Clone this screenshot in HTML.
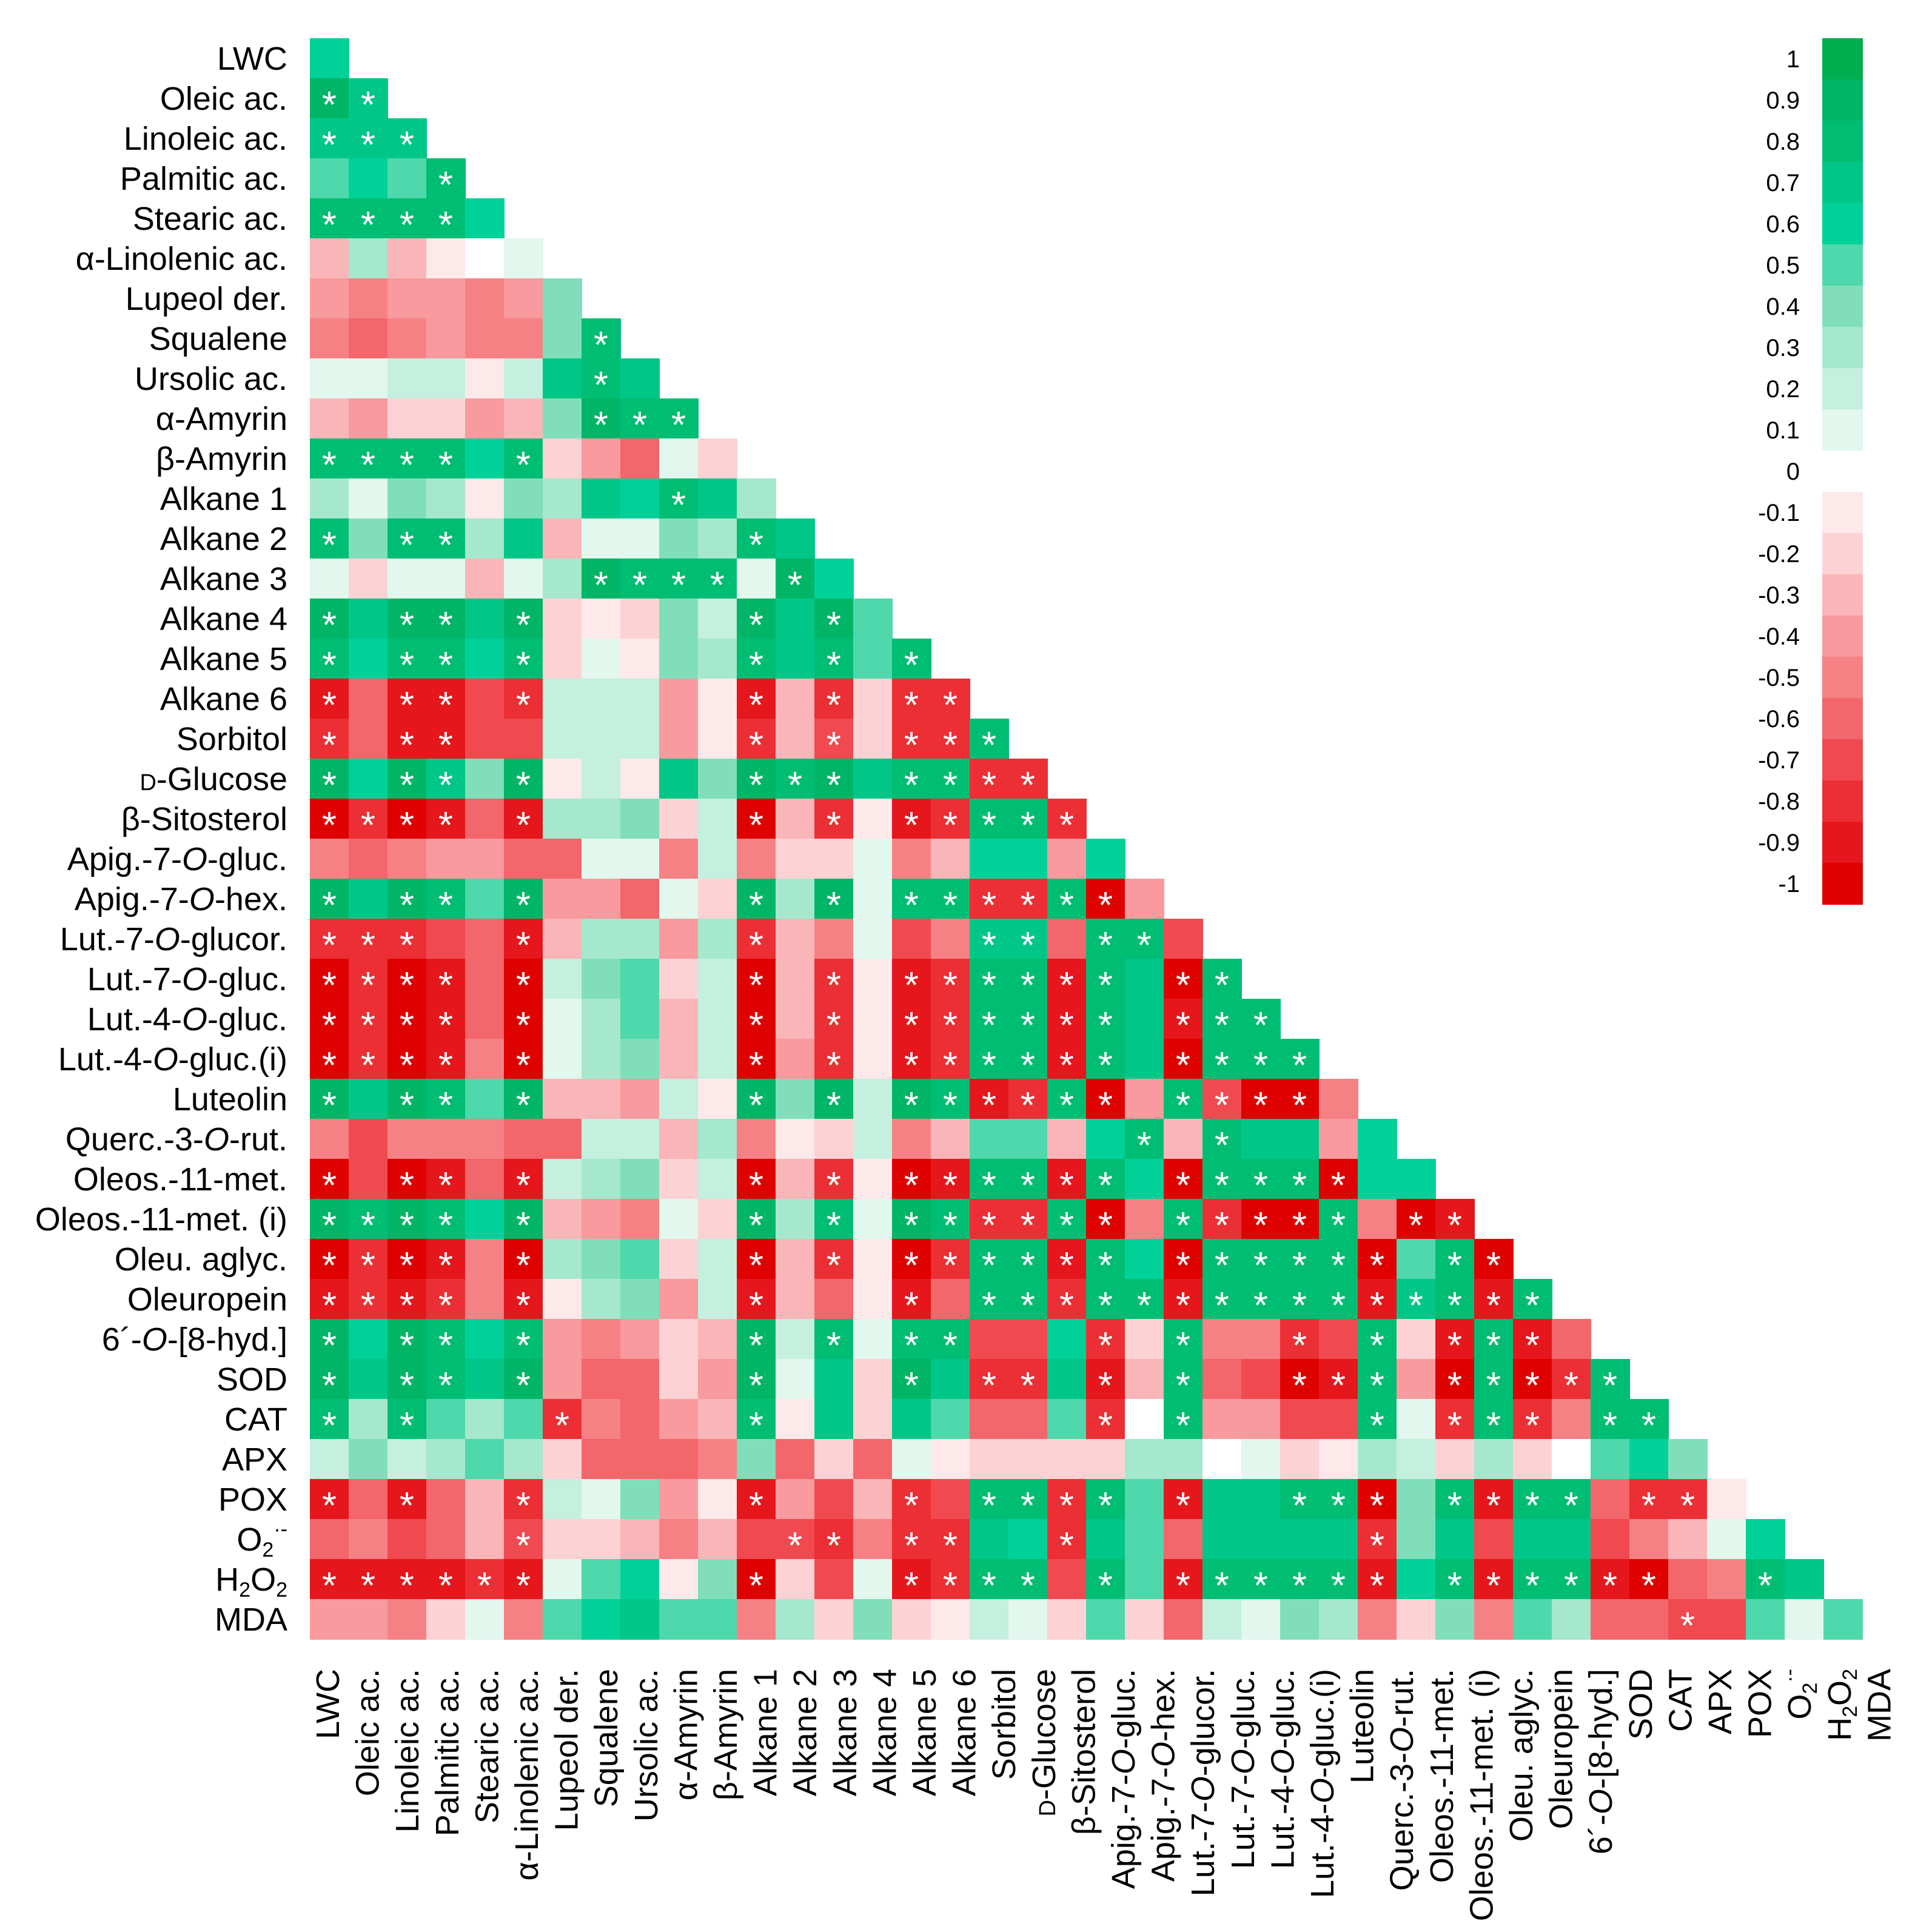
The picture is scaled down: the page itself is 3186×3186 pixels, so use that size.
<!DOCTYPE html>
<html>
<head>
<meta charset="utf-8">
<style>
  html, body { margin: 0; padding: 0; background: #ffffff; }
  svg { display: block; }
  text { font-family: "Liberation Sans", Arial, sans-serif; }
</style>
</head>
<body>
<svg id="chart" xmlns="http://www.w3.org/2000/svg" width="3186" height="3186" viewBox="0 0 3186 3186">
  <rect x="0" y="0" width="3186" height="3186" fill="#ffffff"/>
  <g id="cells"></g>
  <g id="stars"></g>
  <g id="rowLabels"></g>
  <g id="colLabels"></g>
  <g id="legend"></g>
</svg>
<script>
// ---- data ----
const labels = [
  ["LWC"],["Oleic ac."],["Linoleic ac."],["Palmitic ac."],["Stearic ac."],["α-Linolenic ac."],
  ["Lupeol der."],["Squalene"],["Ursolic ac."],["α-Amyrin"],["β-Amyrin"],
  ["Alkane 1"],["Alkane 2"],["Alkane 3"],["Alkane 4"],["Alkane 5"],["Alkane 6"],
  ["Sorbitol"],["D-Glucose"],["β-Sitosterol"],
  ["Apig.-7-","O","-gluc."],["Apig.-7-","O","-hex."],["Lut.-7-","O","-glucor."],["Lut.-7-","O","-gluc."],
  ["Lut.-4-","O","-gluc."],["Lut.-4-","O","-gluc.(i)"],["Luteolin"],["Querc.-3-","O","-rut."],
  ["Oleos.-11-met."],["Oleos.-11-met. (i)"],["Oleu. aglyc."],["Oleuropein"],
  ["6´-","O","-[8-hyd.]"],["SOD"],["CAT"],["APX"],["POX"],["O2"],["H2O2"],["MDA"]
];

const corr = [
  [0.6],
  [0.85,0.65],
  [0.7,0.7,0.7],
  [0.45,0.6,0.5,0.8],
  [0.8,0.8,0.8,0.8,0.6],
  [-0.3,0.3,-0.3,-0.1,0,0.05],
  [-0.4,-0.5,-0.35,-0.35,-0.5,-0.35,0.4],
  [-0.5,-0.55,-0.5,-0.4,-0.45,-0.45,0.4,0.8],
  [0.1,0.1,0.15,0.15,-0.05,0.2,0.65,0.8,0.65],
  [-0.25,-0.4,-0.2,-0.15,-0.35,-0.25,0.35,0.85,0.8,0.8],
  [0.8,0.75,0.8,0.8,0.6,0.8,-0.2,-0.4,-0.55,0.1,-0.2],
  [0.3,0.1,0.35,0.3,-0.1,0.35,0.25,0.65,0.6,0.8,0.7,0.3],
  [0.75,0.35,0.75,0.8,0.3,0.7,-0.3,0.05,0.02,0.4,0.25,0.8,0.7],
  [0.02,-0.15,0.1,0.1,-0.25,0.1,0.3,0.85,0.8,0.8,0.8,0.02,0.85,0.6],
  [0.85,0.65,0.85,0.85,0.62,0.85,-0.15,-0.05,-0.15,0.4,0.15,0.85,0.65,0.85,0.45],
  [0.8,0.55,0.8,0.8,0.6,0.8,-0.15,0.05,-0.03,0.4,0.25,0.8,0.65,0.8,0.5,0.8],
  [-0.85,-0.55,-0.85,-0.85,-0.65,-0.75,0.12,0.15,0.2,-0.35,-0.05,-0.85,-0.3,-0.75,-0.2,-0.8,-0.8],
  [-0.8,-0.55,-0.85,-0.9,-0.7,-0.7,0.12,0.12,0.2,-0.35,-0.05,-0.8,-0.3,-0.7,-0.2,-0.8,-0.8,0.8],
  [0.85,0.55,0.85,0.7,0.35,0.85,-0.1,0.15,-0.03,0.65,0.35,0.85,0.75,0.85,0.65,0.8,0.8,-0.8,-0.8],
  [-1,-0.75,-1,-0.85,-0.55,-0.9,0.25,0.3,0.4,-0.2,0.15,-1,-0.3,-0.8,-0.1,-0.85,-0.8,0.8,0.8,-0.8],
  [-0.45,-0.6,-0.5,-0.4,-0.35,-0.55,-0.55,0.05,0.1,-0.45,0.15,-0.5,-0.2,-0.2,0.02,-0.45,-0.3,0.6,0.6,-0.35,0.6],
  [0.85,0.65,0.85,0.75,0.45,0.85,-0.4,-0.4,-0.55,0.05,-0.2,0.85,0.3,0.85,0.05,0.8,0.8,-0.8,-0.8,0.8,-0.95,-0.35],
  [-0.8,-0.8,-0.8,-0.7,-0.55,-0.85,-0.3,0.3,0.3,-0.35,0.25,-0.8,-0.25,-0.5,0.03,-0.7,-0.5,0.65,0.65,-0.55,0.8,0.8,-0.65],
  [-1,-0.75,-1,-0.85,-0.55,-0.95,0.2,0.35,0.5,-0.2,0.2,-1,-0.3,-0.8,-0.05,-0.85,-0.8,0.8,0.8,-0.85,0.8,0.65,-0.95,0.8],
  [-0.95,-0.75,-1,-0.85,-0.55,-0.95,0.05,0.3,0.45,-0.3,0.15,-1,-0.3,-0.8,-0.05,-0.85,-0.75,0.8,0.8,-0.85,0.8,0.7,-0.9,0.8,0.8],
  [-1,-0.75,-1,-0.85,-0.5,-0.95,0.07,0.3,0.4,-0.3,0.15,-1,-0.35,-0.8,-0.08,-0.85,-0.8,0.8,0.8,-0.85,0.8,0.65,-0.95,0.8,0.8,0.8],
  [0.85,0.65,0.85,0.75,0.45,0.85,-0.3,-0.3,-0.4,0.2,-0.07,0.85,0.4,0.85,0.15,0.85,0.8,-0.85,-0.8,0.8,-0.95,-0.4,0.8,-0.7,-0.95,-0.95,-0.45],
  [-0.45,-0.7,-0.5,-0.5,-0.45,-0.6,-0.55,0.2,0.2,-0.3,0.3,-0.45,-0.1,-0.15,0.15,-0.45,-0.3,0.5,0.5,-0.3,0.6,0.8,-0.3,0.8,0.65,0.65,-0.35,0.55],
  [-1,-0.65,-1,-0.9,-0.6,-0.9,0.2,0.3,0.4,-0.2,0.15,-1,-0.3,-0.8,-0.05,-1,-0.85,0.8,0.8,-0.85,0.8,0.6,-0.95,0.8,0.8,0.8,-0.95,0.55,0.6],
  [0.9,0.75,0.9,0.8,0.55,0.9,-0.3,-0.4,-0.5,0.1,-0.2,0.9,0.3,0.8,0.05,0.85,0.75,-0.8,-0.8,0.75,-0.95,-0.45,0.8,-0.75,-0.95,-0.95,0.8,-0.45,-0.95,-0.9],
  [-1,-0.75,-1,-0.85,-0.5,-0.95,0.25,0.4,0.5,-0.2,0.15,-1,-0.3,-0.8,-0.08,-1,-0.8,0.8,0.8,-0.85,0.8,0.55,-0.95,0.8,0.8,0.8,0.8,-0.95,0.5,0.8,-0.95],
  [-0.9,-0.75,-0.9,-0.75,-0.5,-0.9,-0.07,0.25,0.35,-0.35,0.15,-0.9,-0.3,-0.6,-0.08,-0.9,-0.6,0.8,0.8,-0.8,0.8,0.75,-0.9,0.8,0.8,0.8,0.8,-0.85,0.7,0.8,-0.85,0.8],
  [0.85,0.6,0.85,0.75,0.55,0.8,-0.4,-0.5,-0.4,-0.2,-0.3,0.85,0.2,0.8,0.02,0.8,0.8,-0.65,-0.65,0.6,-0.8,-0.15,0.8,-0.5,-0.5,-0.8,-0.65,0.8,-0.2,-0.85,0.8,-0.85,-0.6],
  [0.85,0.7,0.85,0.8,0.7,0.85,-0.4,-0.55,-0.6,-0.2,-0.35,0.9,0.02,0.7,-0.2,0.85,0.7,-0.8,-0.8,0.65,-0.85,-0.3,0.8,-0.6,-0.65,-0.95,-0.85,0.8,-0.35,-0.95,0.8,-0.95,-0.75,0.8],
  [0.8,0.3,0.8,0.5,0.25,0.5,-0.75,-0.5,-0.55,-0.35,-0.3,0.8,-0.1,0.65,-0.2,0.65,0.5,-0.6,-0.55,0.5,-0.8,0,0.8,-0.35,-0.35,-0.7,-0.65,0.8,0.05,-0.75,0.8,-0.75,-0.5,0.8,0.8],
  [0.15,0.4,0.2,0.3,0.45,0.25,-0.2,-0.6,-0.55,-0.6,-0.45,0.35,-0.6,-0.2,-0.55,0.01,-0.02,-0.15,-0.15,-0.15,-0.15,0.25,0.3,0,0.02,-0.15,-0.05,0.25,0.15,-0.15,0.25,-0.15,0,0.45,0.55,0.4],
  [-0.85,-0.55,-0.9,-0.6,-0.3,-0.8,0.2,0.05,0.4,-0.35,-0.05,-0.85,-0.35,-0.7,-0.3,-0.8,-0.65,0.8,0.8,-0.8,0.8,0.45,-0.85,0.7,0.65,0.8,0.8,-0.95,0.35,0.8,-0.9,0.8,0.8,-0.6,-0.8,-0.75,-0.1],
  [-0.6,-0.5,-0.65,-0.6,-0.3,-0.7,-0.15,-0.15,-0.25,-0.5,-0.3,-0.65,-0.7,-0.8,-0.5,-0.8,-0.8,0.7,0.6,-0.75,0.65,0.45,-0.6,0.7,0.65,0.65,0.65,-0.75,0.4,0.65,-0.65,0.65,0.65,-0.7,-0.5,-0.25,0.1,0.55],
  [-0.9,-0.9,-0.9,-0.9,-0.75,-0.9,0.08,0.5,0.6,-0.02,0.35,-1,-0.15,-0.65,0.1,-0.85,-0.8,0.8,0.8,-0.65,0.8,0.5,-0.9,0.8,0.8,0.8,0.8,-0.85,0.6,0.8,-0.9,0.8,0.8,-0.85,-0.95,-0.6,-0.45,0.75,0.65],
  [-0.4,-0.4,-0.45,-0.12,0.03,-0.45,0.45,0.6,0.65,0.5,0.45,-0.5,0.3,-0.15,0.35,-0.2,-0.1,0.15,0.1,-0.2,0.45,-0.2,-0.55,0.15,0.1,0.4,0.3,-0.5,-0.15,0.35,-0.5,0.45,0.25,-0.55,-0.6,-0.7,-0.65,0.5,0.1,0.45]
];

const sig = [
  [],[0,1],[0,1,2],[3],[0,1,2,3],[],[],[7],[7],[7,8,9],
  [0,1,2,3,5],[9],[0,2,3,11],[7,8,9,10,12],[0,2,3,5,11,13],[0,2,3,5,11,13,15],
  [0,2,3,5,11,13,15,16],[0,2,3,11,13,15,16,17],[0,2,3,5,11,12,13,15,16,17,18],
  [0,1,2,3,5,11,13,15,16,17,18,19],
  [],
  [0,2,3,5,11,13,15,16,17,18,19,20],
  [0,1,2,5,11,17,18,20,21],
  [0,1,2,3,5,11,13,15,16,17,18,19,20,22,23],
  [0,1,2,3,5,11,13,15,16,17,18,19,20,22,23,24],
  [0,1,2,3,5,11,13,15,16,17,18,19,20,22,23,24,25],
  [0,2,3,5,11,13,15,16,17,18,19,20,22,23,24,25],
  [21,23],
  [0,2,3,5,11,13,15,16,17,18,19,20,22,23,24,25,26],
  [0,1,2,3,5,11,13,15,16,17,18,19,20,22,23,24,25,26,28,29],
  [0,1,2,3,5,11,13,15,16,17,18,19,20,22,23,24,25,26,27,29,30],
  [0,1,2,3,5,11,15,17,18,19,20,21,22,23,24,25,26,27,28,29,30,31],
  [0,2,3,5,11,13,15,16,20,22,25,27,29,30,31],
  [0,2,3,5,11,15,17,18,20,22,25,26,27,29,30,31,32,33],
  [0,2,6,11,20,22,27,29,30,31,33,34],
  [],
  [0,2,5,11,15,17,18,19,20,22,25,26,27,29,30,31,32,34,35],
  [5,12,13,15,16,19,27],
  [0,1,2,3,4,5,11,15,16,17,18,20,22,23,24,25,26,27,29,30,31,32,33,34,37],
  [35]
];

const greens = ["#e2f7ee","#c5efdf","#a5e8cd","#80dfba","#4ed8ab","#00d199","#00c787","#00bd74","#00b566","#00ae4f"];
const reds   = ["#fde8ea","#fcd2d4","#fab5b8","#f89a9e","#f68185","#f3666b","#f04a50","#eb2f34","#e5161c","#df0000"];
const legendTicks = ["1","0.9","0.8","0.7","0.6","0.5","0.4","0.3","0.2","0.1","0","-0.1","-0.2","-0.3","-0.4","-0.5","-0.6","-0.7","-0.8","-0.9","-1"];

// ---- layout ----
const NS = "http://www.w3.org/2000/svg";
const X0 = 511, Y0 = 63, CW = 64, RH = 66;
function xPos(j) { return X0 + j * CW; }
function yPos(i) { return Y0 + i * RH; }
function colorOf(v) {
  if (Math.abs(v) < 0.005) return "#ffffff";
  let b = Math.ceil(Math.abs(v) * 10 - 1e-6);
  b = Math.max(1, Math.min(10, b));
  return v > 0 ? greens[b - 1] : reds[b - 1];
}
function mk(tag, attrs) {
  const e = document.createElementNS(NS, tag);
  for (const k in attrs) e.setAttribute(k, attrs[k]);
  return e;
}

const gCells = document.getElementById("cells");
const gStars = document.getElementById("stars");
for (let i = 0; i < corr.length; i++) {
  const row = corr[i];
  const n = Math.min(row.length, i + 1);
  for (let j = 0; j < n; j++) {
    const r = mk("rect", { x: xPos(j), y: yPos(i), width: CW + 1, height: RH + 1, fill: colorOf(row[j]) });
    
    
    gCells.appendChild(r);
  }
  const s = sig[i] || [];
  for (const j of s) {
    if (j >= n) continue;
    const t = mk("text", { x: xPos(j) + CW / 2, y: yPos(i) + RH / 2 + 32, "text-anchor": "middle", "font-size": 62, fill: "#ffffff" });
    t.textContent = "*";
    
    
    gStars.appendChild(t);
  }
}

function fillLabel(t, parts, idx) {
  const name = parts.join("");
  if (name === "O2") {
    t.appendChild(document.createTextNode("O"));
    const s = mk("tspan", { "font-size": 34, dy: 10 }); s.textContent = "2"; t.appendChild(s);
    const s2 = mk("tspan", { "font-size": 34, dy: -34 }); s2.textContent = "·-"; t.appendChild(s2);
    return;
  }
  if (name === "H2O2") {
    t.appendChild(document.createTextNode("H"));
    const a = mk("tspan", { "font-size": 34, dy: 10 }); a.textContent = "2"; t.appendChild(a);
    const b = mk("tspan", { dy: -10 }); b.textContent = "O"; t.appendChild(b);
    const c = mk("tspan", { "font-size": 34, dy: 10 }); c.textContent = "2"; t.appendChild(c);
    return;
  }
  if (name === "D-Glucose") {
    const a = mk("tspan", { "font-size": 38 }); a.textContent = "D"; t.appendChild(a);
    t.appendChild(document.createTextNode("-Glucose"));
    return;
  }
  if (parts.length === 3) {
    t.appendChild(document.createTextNode(parts[0]));
    const it = mk("tspan", { "font-style": "italic" }); it.textContent = parts[1]; t.appendChild(it);
    t.appendChild(document.createTextNode(parts[2]));
    return;
  }
  t.textContent = parts[0];
}

const gRow = document.getElementById("rowLabels");
for (let i = 0; i < labels.length; i++) {
  const t = mk("text", { x: 474, y: yPos(i) + RH / 2 + 19, "text-anchor": "end", "font-size": 54, fill: "#000000" });
  fillLabel(t, labels[i], i);
  
  
  gRow.appendChild(t);
}

const gCol = document.getElementById("colLabels");
for (let j = 0; j < labels.length; j++) {
  const cx = 540 + 65.6 * j + 19;
  const cy = 2752;
  const t = mk("text", { x: 0, y: 0, "text-anchor": "end", "font-size": 54, fill: "#000000",
    transform: "translate(" + cx + "," + cy + ") rotate(-90)" });
  fillLabel(t, labels[j], j);
  
  
  gCol.appendChild(t);
}

const gLeg = document.getElementById("legend");
const LX = 3005, LY = 63, LW = 67, LH = 68;
for (let k = 0; k < legendTicks.length; k++) {
  const v = parseFloat(legendTicks[k]);
  const r = mk("rect", { x: LX, y: LY + k * LH, width: LW, height: LH + 1, fill: colorOf(v) });
  
  
  gLeg.appendChild(r);
  const t = mk("text", { x: 2968, y: LY + k * LH + LH / 2 + 14, "text-anchor": "end", "font-size": 40, fill: "#000000" });
  t.textContent = legendTicks[k];
  
  
  gLeg.appendChild(t);
}
</script>
</body>
</html>
